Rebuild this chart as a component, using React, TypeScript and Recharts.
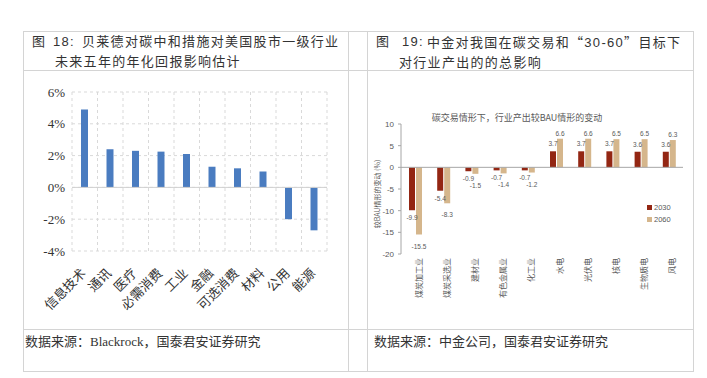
import React from "react";
import {
  BarChart,
  Bar,
  XAxis,
  YAxis,
  CartesianGrid,
  ReferenceLine,
  LabelList,
} from "recharts";

// left chart: BlackRock estimate, annualized return impact (%)
const sectors = ["信息技术", "通讯", "医疗", "必需消费", "工业", "金融", "可选消费", "材料", "公用", "能源"];
const returnImpact = [4.9, 2.4, 2.3, 2.25, 2.1, 1.3, 1.2, 1.0, -2.0, -2.7];
const leftTicks = [-4, -2, 0, 2, 4, 6];

// right chart: CICC, output change vs BAU (%)
const industries = ["煤炭加工业", "煤炭采选业", "建材业", "有色金属业", "化工业", "水电", "光伏电", "核电", "生物质电", "风电"];
const change2030 = [-9.9, -5.4, -0.9, -0.7, -0.7, 3.7, 3.7, 3.7, 3.6, 3.6];
const change2060 = [-15.5, -8.3, -1.5, -1.4, -1.2, 6.6, 6.6, 6.5, 6.5, 6.3];
const rightTicks = [-20, -15, -10, -5, 0, 5, 10];
const seriesNames = ["2030", "2060"];
const seriesColors = ["#932613", "#d5b68c"];

const leftData = sectors.map((name, i) => ({ name, value: returnImpact[i] }));
const rightData = industries.map((name, i) => ({
  name,
  y2030: change2030[i],
  y2060: change2060[i],
}));

const CJK = "'Noto Sans CJK SC', sans-serif";
const SERIF = "'Liberation Serif', 'Noto Sans CJK SC', serif";
const TITLE_FONT = "'Liberation Sans', 'Noto Sans CJK SC', sans-serif";
const LINE = "#d4d4d4";

const LeftTick = ({ x, y, payload }: any) => (
  <text
    transform={`translate(${x + 2},${y + 15}) rotate(-45)`}
    textAnchor="end"
    fontSize={13}
    fill="#333"
    fontFamily={SERIF}
  >
    {payload.value}
  </text>
);

const RightTick = ({ x, y, payload }: any) => (
  <text
    transform={`translate(${x + 3},${y + 4}) rotate(-90)`}
    textAnchor="end"
    dominantBaseline="central"
    fontSize={8}
    fill="#595959"
    fontFamily={CJK}
  >
    {payload.value}
  </text>
);

const valueLabel = (posOffset: number, negOffset: number) => (props: any) => {
  const vb = props.viewBox || props;
  const { x, y, width, height } = vb;
  const value = Number(props.value);
  const top = Math.min(y, y + height);
  const bottom = Math.max(y, y + height);
  const ty = value >= 0 ? top - posOffset : bottom + negOffset;
  return (
    <text
      x={x + width / 2}
      y={ty}
      textAnchor="middle"
      fontSize={6.5}
      fill="#595959"
      fontFamily={TITLE_FONT}
    >
      {String(value)}
    </text>
  );
};

const RightYLabel = () => (
  <text
    transform="translate(17,94) rotate(-90)"
    textAnchor="middle"
    dominantBaseline="central"
    fontSize={7}
    fill="#595959"
    fontFamily={CJK}
  >
    较BAU情形的变动 (%)
  </text>
);

const hLine = (top: number) => (
  <div style={{ position: "absolute", left: 23, top, width: 671, height: 1, background: LINE }} />
);
const vLine = (left: number) => (
  <div style={{ position: "absolute", left, top: 31, width: 1, height: 341, background: LINE }} />
);

const titleStyle: React.CSSProperties = {
  position: "absolute",
  top: 32,
  fontFamily: TITLE_FONT,
  fontSize: 13,
  letterSpacing: 1.3,
  color: "#333",
  lineHeight: "20px",
  whiteSpace: "nowrap",
};

export default function App() {
  return (
    <div
      style={{
        position: "absolute",
        left: 0,
        top: 0,
        width: 707,
        height: 378,
        background: "#fff",
        overflow: "hidden",
      }}
    >
      {hLine(31)}
      {hLine(70)}
      {hLine(329)}
      {hLine(371)}
      {vLine(23)}
      {vLine(348)}
      {vLine(367)}
      {vLine(693)}

      {/* titles */}
      <div style={{ ...titleStyle, left: 32 }}>
        <div style={{ display: "flex" }}>
          <span style={{ width: 21 }}>图</span>
          <span style={{ width: 29 }}>18:</span>
          <span>贝莱德对碳中和措施对美国股市一级行业</span>
        </div>
        <div style={{ paddingLeft: 23 }}>未来五年的年化回报影响估计</div>
      </div>
      <div style={{ ...titleStyle, left: 376 }}>
        <div style={{ display: "flex" }}>
          <span style={{ width: 26 }}>图</span>
          <span style={{ width: 25 }}>19:</span>
          <span>
            中金对我国在碳交易和<span style={{ fontFamily: CJK }}>“</span>30-60
            <span style={{ fontFamily: CJK }}>”</span>目标下
          </span>
        </div>
        <div style={{ paddingLeft: 23 }}>对行业产出的的总影响</div>
      </div>

      {/* left chart */}
      <div style={{ position: "absolute", left: 0, top: 80 }}>
        <BarChart width={345} height={250} data={leftData} margin={{ top: 12, right: 18, left: 0, bottom: 0 }}>
          <CartesianGrid
            stroke="#d9d9d9"
            strokeDasharray="3 3"
            verticalCoordinatesGenerator={({ offset }: any) =>
              sectors.map((_, i) => offset.left + (i * offset.width) / sectors.length).concat(offset.left + offset.width)
            }
          />
          <XAxis
            dataKey="name"
            interval={0}
            axisLine={false}
            tickLine={false}
            height={79}
            tick={<LeftTick />}
          />
          <YAxis
            type="number"
            domain={[-4, 6]}
            ticks={leftTicks}
            width={72}
            axisLine={false}
            tickLine={false}
            tickSize={0}
            tickMargin={7}
            tickFormatter={(v: number) => `${v}%`}
            tick={{ fontSize: 13, fill: "#333", fontFamily: SERIF }}
          />
          <ReferenceLine y={0} stroke="#d0d0d0" />
          <Bar dataKey="value" fill="#4a7cc0" barSize={7} isAnimationActive={false} />
        </BarChart>
      </div>

      {/* right chart */}
      <div style={{ position: "absolute", left: 360, top: 111, width: 314, textAlign: "center", fontFamily: CJK, fontSize: 9, color: "#595959", whiteSpace: "nowrap" }}>
        碳交易情形下，行业产出较BAU情形的变动
      </div>
      <div style={{ position: "absolute", left: 360, top: 100 }}>
        <BarChart
          width={340}
          height={230}
          data={rightData}
          margin={{ top: 24, right: 17, left: 0, bottom: 0 }}
          barGap={1}
        >
          <XAxis
            dataKey="name"
            interval={0}
            axisLine={false}
            tickLine={false}
            tickSize={0}
            tickMargin={0}
            height={76}
            tick={<RightTick />}
          />
          <YAxis
            type="number"
            domain={[-20, 10]}
            ticks={rightTicks}
            width={41}
            stroke="#a6a6a6"
            tickSize={3}
            tickMargin={4}
            tick={{ fontSize: 8, fill: "#595959", fontFamily: TITLE_FONT }}
            label={<RightYLabel />}
          />
          <ReferenceLine y={0} stroke="#a6a6a6" />
          <Bar dataKey="y2030" name={seriesNames[0]} fill={seriesColors[0]} barSize={6} isAnimationActive={false}>
            <LabelList dataKey="y2030" content={valueLabel(5, 10)} />
          </Bar>
          <Bar dataKey="y2060" name={seriesNames[1]} fill={seriesColors[1]} barSize={6} isAnimationActive={false}>
            <LabelList dataKey="y2060" content={valueLabel(3, 14)} />
          </Bar>
        </BarChart>
      </div>
      {/* legend */}
      <div style={{ position: "absolute", left: 647, top: 201, fontFamily: TITLE_FONT, fontSize: 7.5, color: "#595959" }}>
        {seriesNames.map((n, i) => (
          <div key={n} style={{ display: "flex", alignItems: "center", height: 12 }}>
            <span style={{ width: 5, height: 5, background: seriesColors[i], marginRight: 2 }} />
            {n}
          </div>
        ))}
      </div>

      {/* sources */}
      <div style={{ position: "absolute", left: 25, top: 331, fontFamily: SERIF, fontSize: 13, color: "#333", whiteSpace: "nowrap" }}>
        数据来源：Blackrock，国泰君安证券研究
      </div>
      <div style={{ position: "absolute", left: 374, top: 331, fontFamily: SERIF, fontSize: 13, color: "#333", whiteSpace: "nowrap" }}>
        数据来源：中金公司，国泰君安证券研究
      </div>
    </div>
  );
}
